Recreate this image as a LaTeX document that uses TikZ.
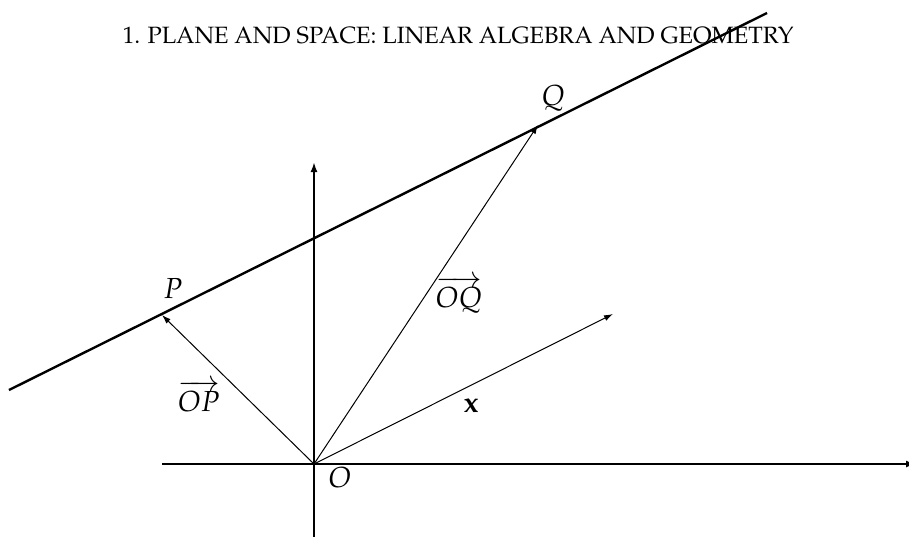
\documentclass[tikz,border=0pt]{standalone}
\usepackage[T1]{fontenc}
\usepackage{mathpazo}
\usetikzlibrary{arrows.meta}
\tikzset{
  thickline/.style={line width=2.4pt},
  axisline/.style={line width=2.4pt,-{Latex[length=10pt,width=7pt]}},
  vec/.style={line width=1pt,-{Latex[length=9pt,width=6pt]}},
  lab/.style={inner sep=0pt,anchor=base,font=\fontsize{29}{34}\selectfont},
  titlelab/.style={inner sep=0pt,anchor=base,font=\fontsize{23.6}{28}\selectfont}
}
\begin{document}
\begin{tikzpicture}[x=1pt,y=-1pt]
\useasboundingbox (0,0) rectangle (909,536);
\fill[white] (0,0) rectangle (909,536);
% coordinates
\coordinate (O) at (314,464);
\coordinate (P) at (162,315);
\coordinate (Q) at (538,125);
\coordinate (X) at (613,314);
\coordinate (L1) at (9,390);
\coordinate (L2) at (767,13);
\coordinate (xl) at (162,464);
\coordinate (xr) at (916,464);
\coordinate (yb) at (314,540);
\coordinate (yt) at (314,162);
% title
\node[titlelab] (title) at (458,43) {1. PLANE AND SPACE: LINEAR ALGEBRA AND GEOMETRY};
% axes
\draw[axisline] (xl) -- (xr);
\draw[axisline] (yb) -- (yt);
% line
\draw[thickline] (L1) -- (L2);
% vectors
\draw[vec] (O) -- (P);
\draw[vec] (O) -- (Q);
\draw[vec] (O) -- (X);
% labels
\node[lab] (Plab) at (173,298) {$P$};
\node[lab] (Qlab) at (553,105) {$Q$};
\node[lab] (Olab) at (340,487) {$O$};
\node[lab] (xlab) at (471,412) {$\mathbf{x}$};
\node[lab] (OQlab) at (459,307) {$\overrightarrow{OQ}$};
\node[lab] (OPlab) at (199,411) {$\overrightarrow{OP}$};
\end{tikzpicture}
\end{document}
